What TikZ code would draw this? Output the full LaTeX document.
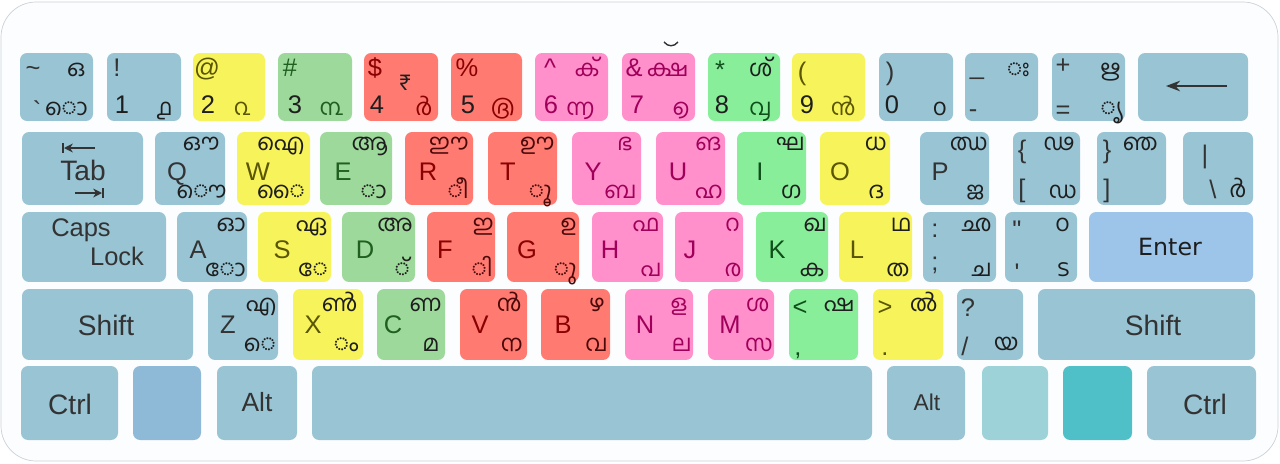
\documentclass[tikz,border=0pt]{standalone}
\usepackage{fontspec}
\setmainfont{Liberation Sans}
\newfontfamily\keyfont{Liberation Sans}
\newfontfamily\enterfont{DejaVu Sans}
\newfontfamily\mlfont[Script=Malayalam]{Hind Kochi}
\usetikzlibrary{positioning, arrows.meta}

\definecolor{kb}{HTML}{98C4D4}
\definecolor{ky}{HTML}{F7F35A}
\definecolor{kg}{HTML}{9DD99A}
\definecolor{kr}{HTML}{FF7B72}
\definecolor{kp}{HTML}{FF90CC}
\definecolor{kl}{HTML}{88EE9A}
\definecolor{kenter}{HTML}{9DC5EA}
\definecolor{kwin}{HTML}{8EBAD7}
\definecolor{kwinb}{HTML}{9DD3D8}
\definecolor{kmenu}{HTML}{4FC0C7}
\definecolor{frame}{HTML}{C9D2DA}
\definecolor{tb}{HTML}{333333}
\definecolor{tml}{HTML}{1E1E1E}
\definecolor{ty}{HTML}{5A5500}
\definecolor{tg}{HTML}{1F5F1F}
\definecolor{tr}{HTML}{8B0000}
\definecolor{trm}{HTML}{4A0A0A}
\definecolor{tp}{HTML}{A0005A}
\definecolor{tl}{HTML}{0F4F1A}

\begin{document}
\begin{tikzpicture}[
    x=0.02cm, y=-0.02cm,
    keycap/.style={rectangle, rounded corners=4pt, inner sep=0pt, outer sep=0pt},
    sym/.style={font=\keyfont\fontsize{14.5}{15}\selectfont, inner sep=0pt, anchor=base},
    ml/.style={font=\mlfont\fontsize{13}{14}\selectfont, inner sep=0pt, anchor=base east},
    big/.style={font=\keyfont\fontsize{16}{17}\selectfont, inner sep=0pt, anchor=base, text=tb},
    arr/.style={line width=1.2pt, draw=tb}
]
\useasboundingbox (0,0) rectangle (1280,463);
\draw[draw=frame, fill=white!97!kb, rounded corners=20pt] (1,2) rectangle (1278,461);

% key caps, row by row
\foreach \nm/\xa/\xb/\col in {tilde/20/93/kb, one/107/181/kb, two/193/265/ky, three/278/352/kg,
    four/364/438/kr, five/451/522/kr, six/535/608/kp, seven/622/695/kp, eight/708/780/kl,
    nine/792/865/ky, zero/879/953/kb, minus/965/1038/kb, equal/1052/1125/kb, back/1138/1248/kb}
  \node[keycap, fill=\col, minimum width={(\xb-\xa)*0.02cm}, minimum height=1.36cm] (\nm) at ({(\xa+\xb)/2},87) {};
\foreach \nm/\xa/\xb/\col in {tab/22/143/kb, q/155/225/kb, w/237/310/ky, e/320/392/kg,
    r/405/473/kr, t/488/557/kr, y/572/641/kp, u/656/725/kp, i/737/806/kl, o/820/890/ky,
    p/920/989/kb, lbr/1013/1080/kb, rbr/1097/1166/kb, bsl/1183/1253/kb}
  \node[keycap, fill=\col, minimum width={(\xb-\xa)*0.02cm}, minimum height=1.46cm] (\nm) at ({(\xa+\xb)/2},168.5) {};
\foreach \nm/\xa/\xb/\col in {caps/22/166/kb, a/177/247/kb, s/258/331/ky, d/342/415/kg,
    f/427/495/kr, g/507/579/kr, h/592/663/kp, j/675/743/kp, k/756/828/kl, l/839/912/ky,
    semi/923/996/kb, quote/1005/1077/kb, enter/1089/1253/kenter}
  \node[keycap, fill=\col, minimum width={(\xb-\xa)*0.02cm}, minimum height=1.40cm] (\nm) at ({(\xa+\xb)/2},247) {};
\foreach \nm/\xa/\xb/\col in {lshift/22/193/kb, z/208/278/kb, x/293/363/ky, c/377/445/kg,
    v/460/527/kr, b/541/610/kr, n/625/693/kp, m/708/774/kp, comma/789/858/kl,
    period/873/943/ky, slash/957/1023/kb, rshift/1038/1255/kb}
  \node[keycap, fill=\col, minimum width={(\xb-\xa)*0.02cm}, minimum height=1.42cm] (\nm) at ({(\xa+\xb)/2},324.5) {};
\foreach \nm/\xa/\xb/\col in {lctrl/21/118/kb, lwin/133/201/kwin, lalt/217/297/kb, space/312/872/kb,
    ralt/887/965/kb, rwin/982/1048/kwinb, menu/1063/1132/kmenu, rctrl/1147/1256/kb}
  \node[keycap, fill=\col, minimum width={(\xb-\xa)*0.02cm}, minimum height=1.48cm] (\nm) at ({(\xa+\xb)/2},403) {};

\draw[line width=0.8pt, tb] (664,42) .. controls (668,47) and (674,47) .. (678,42);

% number row
\node[sym, text=tb] (tilde-sym) at (33,76) {\textasciitilde};
\node[sym, text=tb] (tilde-dig) at (37,119) {`};
\node[ml, text=tml] (tilde-sh) at (86,76) {ഒ};
\node[ml, text=tml] (tilde-ml) at (88,115) {◌ൊ};
\node[sym, text=tb] (one-sym) at (117,76) {!};
\node[sym, text=tml] (one-dig) at (122,113) {1};
\node[ml, text=tml] (one-ml) at (173,115) {൧};
\node[sym, text=ty] (two-sym) at (207,76) {@};
\node[sym, text=tml] (two-dig) at (208,113) {2};
\node[ml, text=ty] (two-ml) at (250,115) {൨};
\node[sym, text=tg] (three-sym) at (290,76) {\#};
\node[sym, text=tml] (three-dig) at (295,113) {3};
\node[ml, text=tg] (three-ml) at (343,115) {൩};
\node[sym, text=tr] (four-sym) at (375,76) {\$};
\node[ml, text=tml, anchor=base] (four-sh) at (405,90) {₹};
\node[sym, text=tml] (four-dig) at (377,113) {4};
\node[ml, text=tr] (four-ml) at (433,115) {൪};
\node[sym, text=tr] (five-sym) at (467,76) {\%};
\node[sym, text=tml] (five-dig) at (468,113) {5};
\node[ml, text=tr] (five-ml) at (515,115) {൫};
\node[sym, text=tp] (six-sym) at (550,76) {\textasciicircum};
\node[ml, text=tp] (six-sh) at (600,76) {ക്};
\node[sym, text=tp] (six-dig) at (551,113) {6};
\node[ml, text=tp] (six-ml) at (595,115) {൬};
\node[sym, text=tp] (seven-sym) at (634,76) {\&};
\node[ml, text=tp] (seven-sh) at (689,76) {ക്ഷ};
\node[sym, text=tp] (seven-dig) at (637,113) {7};
\node[ml, text=tp] (seven-ml) at (690,115) {൭};
\node[sym, text=tl] (eight-sym) at (720,78) {*};
\node[ml, text=tml] (eight-sh) at (773,76) {ശ്};
\node[sym, text=tml] (eight-dig) at (722,113) {8};
\node[ml, text=tl] (eight-ml) at (772,115) {൮};
\node[sym, text=ty] (nine-sym) at (802,80) {(};
\node[sym, text=tml] (nine-dig) at (807,113) {9};
\node[ml, text=ty] (nine-ml) at (856,115) {൯};
\node[sym, text=tb] (zero-sym) at (890,80) {)};
\node[sym, text=tml] (zero-dig) at (892,113) {0};
\node[ml, text=tml] (zero-ml) at (947,115) {൦};
\node[sym, text=tb] (minus-sym) at (977,74) {\_};
\node[sym, text=tb] (minus-dig) at (973,117) {-};
\node[ml, text=tml] (minus-sh) at (1030,76) {◌ഃ};
\node[sym, text=tb] (equal-sym) at (1063,73) {+};
\node[sym, text=tb] (equal-dig) at (1063,118) {=};
\node[ml, text=tml] (equal-sh) at (1121,76) {ഋ};
\node[ml, text=tml] (equal-ml) at (1123,115) {◌ൃ};
\draw[line width=1.1pt, tb, -{Stealth[length=8pt, width=6pt]}] (1227,86) -- (1166,86);

% top letter row
\node[big] (tab-txt) at (83,180) {Tab};
\draw[arr, -{Stealth[length=5pt, width=5pt]}] (95,148) -- (64,148);
\draw[arr] (63,143) -- (63,153);
\draw[arr, -{Stealth[length=5pt, width=5pt]}] (75,193) -- (102,193);
\draw[arr] (103,188) -- (103,198);
\node[sym, text=tb] (q-let) at (177,180) {Q};
\node[ml, text=tml] (q-sh) at (220,150) {ഔ};
\node[ml, text=tml] (q-ml) at (227,198) {◌ൌ};
\node[sym, text=ty] (w-let) at (258,180) {W};
\node[ml, text=tml] (w-sh) at (305,150) {ഐ};
\node[ml, text=tml] (w-ml) at (305,198) {◌ൈ};
\node[sym, text=tg] (e-let) at (343,180) {E};
\node[ml, text=tml] (e-sh) at (388,150) {ആ};
\node[ml, text=tml] (e-ml) at (387,198) {◌ാ};
\node[sym, text=tr] (r-let) at (428,180) {R};
\node[ml, text=trm] (r-sh) at (469,150) {ഈ};
\node[ml, text=trm] (r-ml) at (469,198) {◌ീ};
\node[sym, text=tr] (t-let) at (508,180) {T};
\node[ml, text=trm] (t-sh) at (555,150) {ഊ};
\node[ml, text=trm] (t-ml) at (552,198) {◌ൂ};
\node[sym, text=tp] (y-let) at (593,180) {Y};
\node[ml, text=tp] (y-sh) at (633,150) {ഭ};
\node[ml, text=tp] (y-ml) at (637,198) {ബ};
\node[sym, text=tp] (u-let) at (678,180) {U};
\node[ml, text=tp] (u-sh) at (722,150) {ങ};
\node[ml, text=tp] (u-ml) at (723,198) {ഹ};
\node[sym, text=tl] (i-let) at (760,180) {I};
\node[ml, text=tml] (i-sh) at (805,150) {ഘ};
\node[ml, text=tml] (i-ml) at (802,198) {ഗ};
\node[sym, text=ty] (o-let) at (840,180) {O};
\node[ml, text=tml] (o-sh) at (887,150) {ധ};
\node[ml, text=tml] (o-ml) at (885,198) {ദ};
\node[sym, text=tb] (p-let) at (940,180) {P};
\node[ml, text=tml] (p-sh) at (988,150) {ഝ};
\node[ml, text=tml] (p-ml) at (985,198) {ജ};
\node[sym, text=tb] (lbr-sym) at (1022,158) {\{};
\node[sym, text=tb] (lbr-dig) at (1022,197) {[};
\node[ml, text=tml] (lbr-sh) at (1075,150) {ഢ};
\node[ml, text=tml] (lbr-ml) at (1077,198) {ഡ};
\node[sym, text=tb] (rbr-sym) at (1107,158) {\}};
\node[sym, text=tb] (rbr-dig) at (1107,197) {]};
\node[ml, text=tml] (rbr-sh) at (1158,150) {ഞ};
\node[sym, text=tb] (bsl-sym) at (1205,163) {|};
\node[sym, text=tb] (bsl-dig) at (1213,198) {\textbackslash};
\node[ml, text=tml] (bsl-ml) at (1247,197) {ർ};

% home row
\node[sym, text=tb] (caps-txt) at (81,236) {Caps};
\node[sym, text=tb] (lock-txt) at (117,265) {Lock};
\node[sym, text=tb] (a-let) at (198,258) {A};
\node[ml, text=tml] (a-sh) at (246,231) {ഓ};
\node[ml, text=tml] (a-ml) at (246,276) {◌ോ};
\node[sym, text=ty] (s-let) at (282,258) {S};
\node[ml, text=tml] (s-sh) at (328,231) {ഏ};
\node[ml, text=tml] (s-ml) at (328,276) {◌േ};
\node[sym, text=tg] (d-let) at (365,258) {D};
\node[ml, text=tml] (d-sh) at (413,231) {അ};
\node[ml, text=tml] (d-ml) at (410,276) {◌്};
\node[sym, text=tr] (f-let) at (445,258) {F};
\node[ml, text=trm] (f-sh) at (494,231) {ഇ};
\node[ml, text=trm] (f-ml) at (493,276) {◌ി};
\node[sym, text=tr] (g-let) at (527,258) {G};
\node[ml, text=trm] (g-sh) at (577,231) {ഉ};
\node[ml, text=trm] (g-ml) at (577,276) {◌ു};
\node[sym, text=tp] (h-let) at (610,258) {H};
\node[ml, text=tp] (h-sh) at (660,231) {ഫ};
\node[ml, text=tp] (h-ml) at (662,276) {പ};
\node[sym, text=tp] (j-let) at (690,258) {J};
\node[ml, text=tp] (j-sh) at (740,231) {റ};
\node[ml, text=tp] (j-ml) at (742,276) {ര};
\node[sym, text=tl] (k-let) at (777,258) {K};
\node[ml, text=tml] (k-sh) at (827,231) {ഖ};
\node[ml, text=tml] (k-ml) at (825,276) {ക};
\node[sym, text=ty] (l-let) at (857,258) {L};
\node[ml, text=tml] (l-sh) at (912,231) {ഥ};
\node[ml, text=tml] (l-ml) at (910,276) {ത};
\node[sym, text=tb] (semi-sym) at (935,237) {:};
\node[sym, text=tb] (semi-dig) at (935,270) {;};
\node[ml, text=tml] (semi-sh) at (992,231) {ഛ};
\node[ml, text=tml] (semi-ml) at (992,276) {ച};
\node[sym, text=tb] (quote-sym) at (1017,238) {"};
\node[sym, text=tb] (quote-dig) at (1017,281) {'};
\node[ml, text=tml] (quote-sh) at (1070,231) {ഠ};
\node[ml, text=tml] (quote-ml) at (1070,276) {ട};
\node[sym, font=\enterfont\fontsize{13.5}{14}\selectfont, text=tml] (enter-txt) at (1170,255) {Enter};

% bottom letter row
\node[big] (lshift-txt) at (106,335) {Shift};
\node[sym, text=tb] (z-let) at (228,333) {Z};
\node[ml, text=tml] (z-sh) at (277,311) {എ};
\node[ml, text=tml] (z-ml) at (276,351) {◌െ};
\node[sym, text=ty] (x-let) at (313,333) {X};
\node[ml, text=tml] (x-sh) at (358,311) {ൺ};
\node[ml, text=tml] (x-ml) at (359,351) {◌ം};
\node[sym, text=tg] (c-let) at (393,333) {C};
\node[ml, text=tml] (c-sh) at (442,311) {ണ};
\node[ml, text=tml] (c-ml) at (440,351) {മ};
\node[sym, text=tr] (v-let) at (480,333) {V};
\node[ml, text=trm] (v-sh) at (522,311) {ൻ};
\node[ml, text=trm] (v-ml) at (523,351) {ന};
\node[sym, text=tr] (b-let) at (563,333) {B};
\node[ml, text=trm] (b-sh) at (605,311) {ഴ};
\node[ml, text=trm] (b-ml) at (608,351) {വ};
\node[sym, text=tp] (n-let) at (645,333) {N};
\node[ml, text=tp] (n-sh) at (688,311) {ള};
\node[ml, text=tp] (n-ml) at (692,351) {ല};
\node[sym, text=tp] (m-let) at (730,333) {M};
\node[ml, text=tp] (m-sh) at (770,311) {ശ};
\node[ml, text=tp] (m-ml) at (773,351) {സ};
\node[sym, text=tl] (comma-sym) at (800,315) {<};
\node[sym, text=tl] (comma-dig) at (798,355) {,};
\node[ml, text=tml] (comma-sh) at (855,311) {ഷ};
\node[sym, text=ty] (period-sym) at (885,315) {>};
\node[sym, text=ty] (period-dig) at (885,355) {.};
\node[ml, text=tml] (period-sh) at (938,311) {ൽ};
\node[sym, text=tb] (slash-sym) at (968,316) {?};
\node[sym, text=tb] (slash-dig) at (965,355) {/};
\node[ml, text=tml] (slash-ml) at (1019,350) {യ};
\node[big] (rshift-txt) at (1153,335) {Shift};

% space row
\node[big] (lctrl-txt) at (70,414) {Ctrl};
\node[big, font=\keyfont\fontsize{15}{16}\selectfont] (lalt-txt) at (257,411) {Alt};
\node[big, font=\keyfont\fontsize{13}{14}\selectfont] (ralt-txt) at (927,410) {Alt};
\node[big] (rctrl-txt) at (1205,414) {Ctrl};

\end{tikzpicture}
\end{document}
